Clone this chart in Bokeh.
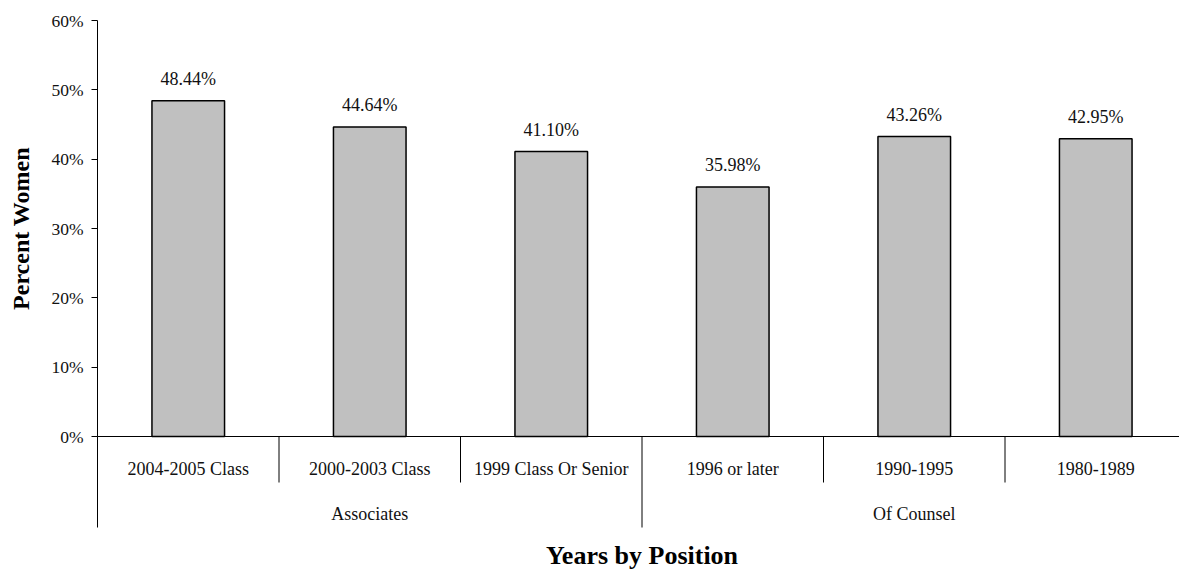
import math
from bokeh.plotting import figure
from bokeh.models import Range1d, FixedTicker, PrintfTickFormatter
from bokeh.core.properties import value
from bokeh.embed import file_html
from bokeh.resources import INLINE

# ---- data ----
categories = ["2004-2005 Class", "2000-2003 Class", "1999 Class Or Senior",
              "1996 or later", "1990-1995", "1980-1989"]
group_names = ["Associates", "Of Counsel"]
group_sizes = [3, 3]
percent_women = [48.44, 44.64, 41.10, 35.98, 43.26, 42.95]
y_ticks = [0, 10, 20, 30, 40, 50, 60]
y_title = "Percent Women"
x_title = "Years by Position"

# ---- layout (pixel geometry of the reference) ----
FONT = "Liberation Serif"
W, H = 1179, 573
X0_PX, Y0_PX = 97, 436          # pixel position of the origin
px_per_y = 416 / 60.0           # 60% spans 416 px
px_per_x = 181.5                # one category
y_lo = -(H - Y0_PX) / px_per_y
y_hi = Y0_PX / px_per_y
x_lo = -X0_PX / px_per_x
x_hi = (W - X0_PX) / px_per_x

p = figure(width=W, height=H, x_range=Range1d(x_lo, x_hi), y_range=Range1d(y_lo, y_hi),
           output_backend="svg", toolbar_location=None, x_axis_location=None,
           min_border=0)
p.grid.grid_line_color = None
p.outline_line_color = None
p.background_fill_color = "white"
p.border_fill_color = "white"

ax = p.yaxis[0]
ax.fixed_location = 0
ax.bounds = (0, 60)
ax.ticker = FixedTicker(ticks=y_ticks)
ax.formatter = PrintfTickFormatter(format="%d%%")
ax.major_tick_in = 0
ax.major_tick_out = 6
ax.minor_tick_line_color = None
ax.axis_line_color = "black"
ax.major_tick_line_color = "black"
ax.major_label_text_font = FONT
ax.major_label_text_font_size = "17.5px"
ax.major_label_text_color = "#111111"
ax.major_label_standoff = 8

centers = [i + 0.5 for i in range(len(categories))]

p.vbar(x=centers, top=percent_women, bottom=0, width=0.4,
       fill_color="#C0C0C0", line_color="black", line_width=1.5)

p.text(x=centers, y=percent_women, text=[f"{v:.2f}%" for v in percent_women],
       text_align="center", text_baseline="middle", y_offset=-22,
       text_font=value(FONT), text_font_size=value("18px"), text_color="#111111")

# x axis line at 0
p.segment(x0=[0], y0=[0], x1=[x_hi], y1=[0], line_color="black", line_width=1)

# separators
bounds = [0]
acc = 0
for s in group_sizes:
    acc += s
    bounds.append(acc)
inner = [i for i in range(1, len(categories)) if i not in bounds]
inner_bottom = -(482 - Y0_PX) / px_per_y
group_bottom = -(527 - Y0_PX) / px_per_y
p.segment(x0=inner, y0=[0] * len(inner), x1=inner, y1=[inner_bottom] * len(inner),
          line_color="black", line_width=1)
p.segment(x0=bounds, y0=[0] * len(bounds), x1=bounds, y1=[group_bottom] * len(bounds),
          line_color="black", line_width=1)

# category labels
p.text(x=centers, y=[0] * len(categories), text=categories,
       text_align="center", text_baseline="middle", y_offset=32,
       text_font=value(FONT), text_font_size=value("18px"), text_color="#111111")

# group labels
g_centers = []
start = 0
for s in group_sizes:
    g_centers.append(start + s / 2.0)
    start += s
p.text(x=g_centers, y=[0] * len(group_names), text=group_names,
       text_align="center", text_baseline="middle", y_offset=77,
       text_font=value(FONT), text_font_size=value("18px"), text_color="#111111")

# axis titles
p.text(x=[(20 - X0_PX) / px_per_x], y=[30], text=[y_title], angle=math.pi / 2,
       text_align="center", text_baseline="middle",
       text_font=value(FONT), text_font_size=value("24px"), text_font_style="bold",
       text_color="black")
p.text(x=[sum(group_sizes) / 2.0], y=[0], text=[x_title], y_offset=119,
       text_align="center", text_baseline="middle",
       text_font=value(FONT), text_font_size=value("26px"), text_font_style="bold",
       text_color="black")

open("out.html", "w").write(file_html(p, INLINE))
